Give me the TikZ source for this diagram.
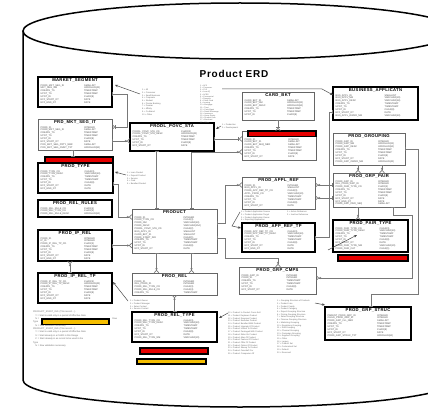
\documentclass[tikz,border=0pt]{standalone}
\usepackage{fontspec}
\setmainfont{Liberation Sans}
\newfontfamily\hdfont[LetterSpace=8]{Liberation Sans}
\newfontfamily\ttlfont[LetterSpace=8]{Liberation Sans}
\usetikzlibrary{arrows.meta,calc}
\definecolor{barred}{RGB}{230,0,0}
\definecolor{baryellow}{RGB}{245,190,0}
\definecolor{linegray}{RGB}{120,120,120}
\definecolor{notegray}{RGB}{105,105,105}
\newcommand\efs{\fontsize{2.4}{2.85}\selectfont}
\newcommand\nfs{\fontsize{2.1}{2.7}\selectfont}

\tikzset{
  cyl/.style={draw=black, line width=1.5pt},
  entthin/.style={draw=black!60, line width=0.6pt, inner sep=0pt, outer sep=0pt, fill=white},
  entthick/.style={draw=black, line width=1.3pt, inner sep=0pt, outer sep=0pt, fill=white},
  enttitle/.style={inner sep=0pt, font=\hdfont\fontsize{4.2}{5}\selectfont\bfseries},
  entcol/.style={inner sep=0pt, align=left, font=\efs, text=black!70},
  notetext/.style={inner sep=0pt, align=left, font=\nfs, text=notegray, anchor=north west},
  rel/.style={draw=linegray, line width=0.65pt},
  mcrow/.style={arrows={{Bar[width=4pt,line width=0.6pt]}-{Circle[open,length=2.2pt,width=2.2pt,line width=0.5pt] Straight Barb[reversed,length=2.4pt,width=4.6pt,line width=0.6pt]}}},
  mbar/.style={arrows={{Bar[width=4pt,line width=0.6pt]}-{Bar[width=4pt,line width=0.6pt] Straight Barb[reversed,length=2.4pt,width=4.6pt,line width=0.6pt]}}},
  onebar/.style={arrows={{Bar[width=4pt,line width=0.6pt]}-{Bar[width=4pt,line width=0.6pt]}}},
  notearr/.style={draw=black!70, line width=0.5pt, arrows={-Stealth[length=3pt,width=2.6pt]}},
  redbar/.style={draw=black, line width=1.2pt, fill=barred, inner sep=0pt, outer sep=0pt},
  yellowbar/.style={draw=black, line width=1.2pt, fill=baryellow, inner sep=0pt, outer sep=0pt},
}

% entity box: name, x, y, width, height, style, title, column of names, column of types
\newcommand\erdbox[9]{%
  \node[#6, minimum width=#4pt, minimum height=#5pt, anchor=north west] (#1) at (#2,#3) {};
  \node[enttitle, anchor=north] (#1-t) at ($(#1.north)+(0,1.6)$) {#7};
  \node[entcol, anchor=north west] (#1-l) at ($(#1.north west)+(2.5,7.2)$) {#8};
  \node[entcol, anchor=north west] (#1-r) at ($(#1.north)+(9,7.2)$) {#9};
}

\begin{document}
\begin{tikzpicture}[x=1pt,y=-1pt]
\useasboundingbox (0,0) rectangle (428,409);
\fill[white] (0,0) rectangle (428,409);
\clip (0,0) rectangle (428,409);

% the database cylinder
\draw[cyl] (240,31) ellipse [x radius=217pt, y radius=28pt];
\draw[cyl] (23,31) -- (23,380) arc[start angle=180, end angle=360, x radius=217pt, y radius=27pt] -- (457,31);

\node[font=\ttlfont\fontsize{10}{12}\selectfont\bfseries] (title) at (234,74) {Product ERD};

% ---------------- entities ----------------
\erdbox{MKT}{38}{77}{74}{30}{entthick}{MARKET\_SEGMENT}
 {PROD\_MKT\_SEG\_ID\\MKT\_SEG\_NM\\CREATE\_TS\\UPDT\_TS\\UPDT\_ID\\EFF\_START\_DT\\EFF\_END\_DT}
 {SMALLINT\\VARCHAR(40)\\TIMESTAMP\\TIMESTAMP\\CHAR(8)\\DATE\\DATE}

\erdbox{PMS}{38}{119}{74}{31}{entthin}{PRD\_MKT\_SEG\_IT}
 {PROD\_ID\\PROD\_MKT\_SEG\_ID\\CREATE\_TS\\UPDT\_TS\\UPDT\_ID\\EFF\_START\_DT\\PRD\_MKT\_SEG\_PRTY\_NBR\\PRD\_MKT\_SEG\_CMNT\_TXT}
 {INTEGER\\SMALLINT\\TIMESTAMP\\TIMESTAMP\\CHAR(8)\\DATE\\SMALLINT\\VARCHAR(80)}

\erdbox{PTYPE}{38}{163}{75}{30}{entthick}{PROD\_TYPE}
 {PROD\_TYPE\_CD\\PROD\_TYPE\_DESC\\CREATE\_TS\\UPDT\_TS\\UPDT\_ID\\EFF\_START\_DT\\EFF\_END\_DT}
 {CHAR(3)\\VARCHAR(40)\\TIMESTAMP\\TIMESTAMP\\CHAR(8)\\DATE\\DATE}
\node[redbar, minimum width=68pt, minimum height=6pt, anchor=north west] (PTYPE-hd) at (45,157) {};

\erdbox{PRR}{38}{200}{74}{17}{entthick}{PROD\_REL\_RULES}
 {PROD\_REL\_RULE\_CD\\PROD\_REL\_TYPE\_CD\\PROD\_REL\_RULE\_DESC}
 {CHAR(4)\\CHAR(3)\\VARCHAR(60)}

\erdbox{PIR}{38}{230}{74}{31}{entthick}{PROD\_IP\_REL}
 {PROD\_ID\\IP\_ID\\PROD\_IP\_REL\_TP\_CD\\CREATE\_TS\\UPDT\_TS\\UPDT\_ID\\EFF\_START\_DT\\EFF\_END\_DT}
 {INTEGER\\INTEGER\\CHAR(3)\\TIMESTAMP\\TIMESTAMP\\CHAR(8)\\DATE\\DATE}

\erdbox{PIRT}{38}{273}{74}{30}{entthick}{PROD\_IP\_REL\_TP}
 {PROD\_IP\_REL\_TP\_CD\\PROD\_IP\_REL\_TP\_DESC\\CREATE\_TS\\UPDT\_TS\\UPDT\_ID\\EFF\_START\_DT\\EFF\_END\_DT}
 {CHAR(3)\\VARCHAR(40)\\TIMESTAMP\\TIMESTAMP\\CHAR(8)\\DATE\\DATE}

\erdbox{POVC}{130}{123}{84}{28}{entthick}{PRODL\_POVC\_STA}
 {PRODL\_POVC\_STA\_CD\\PRODL\_POVC\_STA\_DESC\\CREATE\_TS\\UPDT\_TS\\UPDT\_ID\\EFF\_START\_DT}
 {CHAR(2)\\VARCHAR(40)\\TIMESTAMP\\TIMESTAMP\\CHAR(8)\\DATE}

\erdbox{PRODUCT}{132}{209}{85}{44}{entthin}{PRODUCT}
 {PROD\_ID\\PROD\_TYPE\_CD\\PROD\_NM\\PROD\_DESC\\PRODL\_POVC\_STA\_CD\\BUS\_APPL\_ID\\CARD\_BKT\_ID\\PROD\_START\_IND\\CREATE\_TS\\UPDT\_TS\\UPDT\_ID\\EFF\_START\_DT}
 {INTEGER\\CHAR(3)\\VARCHAR(40)\\VARCHAR(254)\\CHAR(2)\\SMALLINT\\SMALLINT\\CHAR(1)\\TIMESTAMP\\TIMESTAMP\\CHAR(8)\\DATE}

\erdbox{PREL}{132}{273}{85}{22}{entthin}{PROD\_REL}
 {PROD\_ID\\REL\_PROD\_ID\\PROD\_REL\_TYPE\_CD\\PROD\_REL\_RULE\_CD\\CREATE\_TS}
 {INTEGER\\INTEGER\\CHAR(3)\\CHAR(4)\\TIMESTAMP}

\erdbox{PRT}{132}{312}{85}{30}{entthick}{PROD\_REL\_TYPE}
 {PROD\_REL\_TYPE\_CD\\PROD\_REL\_TYPE\_DESC\\CREATE\_TS\\UPDT\_TS\\UPDT\_ID\\EFF\_START\_DT\\PROD\_REL\_TYPE\_NM}
 {CHAR(3)\\VARCHAR(40)\\TIMESTAMP\\TIMESTAMP\\CHAR(8)\\DATE\\VARCHAR(20)}

\erdbox{CARD}{242}{92}{72}{28}{entthin}{CARD\_BKT}
 {CARD\_BKT\_ID\\CARD\_BKT\_NM\\CARD\_BKT\_DESC\\CREATE\_TS\\UPDT\_TS\\UPDT\_ID}
 {SMALLINT\\VARCHAR(20)\\VARCHAR(60)\\TIMESTAMP\\TIMESTAMP\\CHAR(8)}

\erdbox{CBX}{242}{131}{74}{29}{entthin}{PROD\_CARD\_BKT}
 {PROD\_ID\\CARD\_BKT\_ID\\CARD\_BKT\_SEQ\_NBR\\CREATE\_TS\\UPDT\_TS\\UPDT\_ID\\EFF\_START\_DT}
 {INTEGER\\SMALLINT\\SMALLINT\\TIMESTAMP\\TIMESTAMP\\CHAR(8)\\DATE}
\node[redbar, minimum width=68pt, minimum height=5.5pt, anchor=north west] (CBX-hd) at (248,131) {};

\erdbox{BA}{333}{87}{85}{33}{entthick}{BUSINESS\_APPLICATN}
 {BUS\_APPL\_ID\\BUS\_APPL\_NM\\BUS\_APPL\_DESC\\CREATE\_TS\\UPDT\_TS\\UPDT\_ID\\EFF\_START\_DT\\BUS\_APPL\_OWNR\_NM}
 {SMALLINT\\VARCHAR(20)\\VARCHAR(60)\\TIMESTAMP\\TIMESTAMP\\CHAR(8)\\DATE\\VARCHAR(40)}

\erdbox{PG}{333}{133}{72}{32}{entthin}{PROD\_GROUPING}
 {PROD\_GRP\_ID\\PROD\_GRP\_NM\\PROD\_GRP\_DESC\\CREATE\_TS\\UPDT\_TS\\UPDT\_ID\\EFF\_START\_DT\\PROD\_GRP\_OWNR\_NM}
 {INTEGER\\VARCHAR(20)\\VARCHAR(60)\\TIMESTAMP\\TIMESTAMP\\CHAR(8)\\DATE\\VARCHAR(40)}

\erdbox{PGP}{333}{173}{72}{34}{entthin}{PROD\_GRP\_PAIR}
 {PROD\_GRP\_ID\\REL\_PROD\_GRP\_ID\\PROD\_PAIR\_TYPE\_CD\\CREATE\_TS\\UPDT\_TS\\UPDT\_ID\\EFF\_START\_DT\\EFF\_END\_DT\\PROD\_GRP\_PAIR\_SEQ}
 {INTEGER\\INTEGER\\CHAR(3)\\TIMESTAMP\\TIMESTAMP\\CHAR(8)\\DATE\\DATE\\SMALLINT}

\erdbox{PPT}{333}{220}{75}{32}{entthick}{PROD\_PAIR\_TYPE}
 {PROD\_PAIR\_TYPE\_CD\\PROD\_PAIR\_TYPE\_DESC\\CREATE\_TS\\UPDT\_TS\\UPDT\_ID\\EFF\_START\_DT\\PROD\_PAIR\_TYPE\_NM\\PROD\_PAIR\_CAT}
 {CHAR(3)\\VARCHAR(40)\\TIMESTAMP\\TIMESTAMP\\CHAR(8)\\DATE\\VARCHAR(20)\\CHAR(1)}
\node[redbar, minimum width=70pt, minimum height=6pt, anchor=north west] (PPT-ft) at (338,255) {};

\erdbox{PAR}{242}{177}{73}{32}{entthin}{PROD\_APPL\_REF}
 {PROD\_ID\\BUS\_APPL\_ID\\PROD\_APP\_REF\_TP\_CD\\APPL\_PROD\_CD\\CREATE\_TS\\UPDT\_TS\\UPDT\_ID\\EFF\_START\_DT}
 {INTEGER\\SMALLINT\\CHAR(3)\\VARCHAR(20)\\TIMESTAMP\\TIMESTAMP\\CHAR(8)\\DATE}

\erdbox{PART}{242}{223}{73}{29}{entthick}{PROD\_APP\_REF\_TP}
 {PROD\_APP\_REF\_TP\_CD\\PROD\_APP\_REF\_TP\_DESC\\CREATE\_TS\\UPDT\_TS\\UPDT\_ID\\EFF\_START\_DT\\EFF\_END\_DT}
 {CHAR(3)\\VARCHAR(40)\\TIMESTAMP\\TIMESTAMP\\CHAR(8)\\DATE\\DATE}

\erdbox{PGC}{239}{267}{77}{27}{entthin}{PROD\_GRP\_CMPS}
 {PROD\_GRP\_ID\\PROD\_ID\\CREATE\_TS\\UPDT\_TS\\UPDT\_ID\\EFF\_START\_DT}
 {INTEGER\\INTEGER\\TIMESTAMP\\TIMESTAMP\\CHAR(8)\\DATE}

\erdbox{PGS}{325}{307}{86}{33}{entthick}{PROD\_GRP\_STRUC}
 {PARENT\_PROD\_GRP\_ID\\CHILD\_PROD\_GRP\_ID\\PROD\_GRP\_LVL\_NBR\\CREATE\_TS\\UPDT\_TS\\UPDT\_ID\\EFF\_START\_DT\\PROD\_GRP\_STRUC\_TXT}
 {INTEGER\\INTEGER\\SMALLINT\\TIMESTAMP\\TIMESTAMP\\CHAR(8)\\DATE\\VARCHAR(60)}

% flags under the relation type table
\node[redbar, minimum width=68pt, minimum height=6pt, anchor=north west] (flagred) at (140,348) {};
\node[yellowbar, minimum width=69pt, minimum height=5pt, anchor=north west] (flagyel) at (137,359) {};

% ---------------- code lists ----------------
\node[notetext] (N1) at (142,89) {1 = All\\2 = Consumer\\3 = Small Business\\4 = Corporate\\5 = Student\\6 = Private Banking\\7 = Premier\\8 = Affinity\\9 = Co-Brand\\10 = Other};
\node[notetext, font=\fontsize{1.9}{2.15}\selectfont] (N2) at (200,85) {1 = AFS\\2 = Consumer\\3 = CLS\\4 = Loan IQ\\5 = ACBS\\6 = Commercial\\7 = Deposits\\8 = Credit Card\\9 = Leasing\\10 = Mortgage\\11 = Trust\\12 = Cash Mgmt\\13 = Retail Brokerage\\14 = Insurance\\15 = Home Equity\\16 = Student Loan\\17 = Merchant\\18 = Other};
\node[notetext] (N3) at (222,124) {1 = Production\\2 = Development};
\node[notetext] (N4) at (127,172) {1 = Loan Product\\2 = Deposit Product\\3 = Service\\4 = Card\\5 = Bundled Product};
\node[notetext] (N5) at (130,300) {1 = Product Owner\\2 = Product Manager\\3 = Sales Contact\\4 = Service Contact};
\node[notetext] (N6a) at (241,211) {1 = Product Application Source\\2 = Product Application Target\\3 = Product Application Owner\\4 = Reporting Application};
\node[notetext] (N6b) at (287,211) {1 = Active Reference\\2 = Inactive Reference};
\node[notetext] (N7) at (228,312) {10 = Product to Product Cross Sell\\11 = Product Replaces Product\\12 = Product Requires Product\\13 = Product Excludes Product\\14 = Product Bundled With Product\\15 = Product Upgrade Of Product\\16 = Product Linked To Product\\17 = Product Packaged With Product\\18 = Product Rider On Product\\19 = Product Alias Of Product\\20 = Product Feature Of Product\\21 = Product Offer Of Product\\22 = Product Option Of Product\\23 = Product Sweep To Product\\24 = Product Overdraft For\\25 = Product Companion Of};
\node[notetext] (N8) at (277,300) {1 = Grouping Structure of Products\\2 = Product Line\\3 = Product Family\\4 = Product Category\\5 = Report Grouping Structure\\6 = Pricing Grouping Structure\\7 = Sales Grouping Structure\\8 = Finance Grouping Structure\\9 = Marketing Grouping\\10 = Regulatory Grouping\\11 = Risk Grouping\\12 = Channel Grouping\\13 = Campaign Grouping\\14 = Segment Grouping\\15 = Other\\16 = Legacy\\17 = Product Set\\18 = Customized Set\\19 = Default\\20 = Reserved};

% legend text with its colour key
\node[notetext, font=\fontsize{2.3}{3.35}\selectfont] (legend) at (33,311) {PRODUCT\_START\_IND \ (This record ...)\\
\quad Y = Start is valid only in a period of Effective Date\\
\quad N = \hspace{72pt} Row\\
Type\\
\quad N = Row validation necessary\\
PRODUCT\_START\_IND \ (This record ...)\\
\quad Y = Start is valid only in a period of Effective Date\\
\quad S = Start already in a CARD in this Range\\
\quad C = Start already in as record to be used in the\\
Type\\
\quad N = Row validation necessary};
\node[yellowbar, minimum width=67pt, minimum height=5.5pt, anchor=north west] (legyel) at (42,319) {};

% ---------------- relationships ----------------
\draw[notearr] ($(N1.north west)+(-2,5)$) -- ($(MKT.north east)+(3,8)$);
\draw[rel,mbar] ($(MKT.east)+(0,2)$) -- ++(15,0) |- ($(PMS.east)+(0,-7.5)$);
\coordinate (c1) at ($(PMS.east)+(0,6.5)$);
\draw[rel,mcrow] (c1) -- (c1 -| POVC.west);
\coordinate (d1) at ($(PMS.south)+(-2,0)$);
\draw[rel,onebar] (d1) -- (d1 |- PTYPE-hd.north);
\draw[notearr] ($(N4.north west)+(-1,3)$) -- ($(PTYPE.east)+(2,-6)$);
\draw[rel,mcrow] ($(PTYPE.east)+(0,6)$) -- ++(5,0) |- ($(PRODUCT.west)+(0,-14)$);
\draw[rel,mcrow] (PIR.east) -- (PIR.east -| PRODUCT.west);
\coordinate (h1) at ($(PIRT.north)+(-5,0)$);
\draw[rel,mcrow] (h1) -- (h1 |- PIR.south);
\draw[notearr] ($(N5.north west)+(-2,1)$) -- ($(PIRT.east)+(1,-6)$);

\coordinate (j1) at ($(PRODUCT.south)+(-18,0)$);
\coordinate (j2) at ($(PRODUCT.south)+(17,0)$);
\draw[rel,mcrow] (j1) -- (j1 |- PREL.north);
\draw[rel,mcrow] (j2) -- (j2 |- PREL.north);
\draw[rel,mcrow] (PRT.north) -- (PREL.south);

\coordinate (l1) at ($(PRODUCT.north)+(-18,0)$);
\draw[rel,onebar] (l1) -- (l1 |- POVC.south);
\coordinate (m1) at ($(PRODUCT.north)+(17,0)$);
\draw[rel,mcrow] (m1) |- ($(CBX.west)+(0,6.5)$);
\coordinate (n1) at ($(POVC.east)+(0,2)$);
\draw[rel,mbar] (n1) -- (n1 -| CBX.west);
\draw[rel,mbar] (CARD.south) -- (CARD.south |- CBX-hd.north);

\coordinate (p1) at ($(N2.north west)+(22,4)$);
\coordinate (p2) at ($(BA.north west)+(-11,2)$);
\draw[notearr] (p1) -- (p2) -- ($(BA.north west)+(0,8)$);
\draw[notearr] ($(N3.north west)+(-1,2)$) -- ($(POVC.north east)+(2,6)$);

\coordinate (r1) at ($(BA.west)+(0,8.5)$);
\draw[rel,onebar] (r1) -- ++(-4,0) |- (PART.east);
\draw[rel,onebar] (PG.east) -- ++(13,0) -- ++(0,145) -| ($(PGS.north)+(3,0)$);
\coordinate (t1) at ($(PG.south)+(-11,0)$);
\coordinate (t2) at ($(PG.south)+(13,0)$);
\draw[rel,mcrow] (t1) -- (t1 |- PGP.north);
\draw[rel,mcrow] (t2) -- (t2 |- PGP.north);
\coordinate (u1) at ($(PGP.south)+(-11,0)$);
\draw[rel,mcrow] (u1) -- (u1 |- PPT.north);
\draw[rel,mcrow] ($(PGP.south)+(24,0)$) -- ++(0,8) -- ++(19,0) |- ($(PGC.east)+(0,-2.5)$);

\draw[rel,mcrow] ($(PRODUCT.east)+(0,-8)$) -- ++(8,0) |- ($(PAR.west)+(0,-8)$);
\draw[rel,mcrow] ($(PRODUCT.east)+(0,7)$) -- ++(8,0) -- ++(0,20) -| ($(PGC.north)+(0.5,0)$);
\coordinate (y1) at ($(PAR.east)+(0,-8)$);
\coordinate (y2) at ($(PAR.east)+(0,5)$);
\draw[rel,mcrow] (y1 -| PGP.west) -- (y1);
\draw[rel,mcrow] (y2 -| PGP.west) -- (y2);

\draw[notearr] ($(PART.north west)+(-2,-11)$) -- ($(PART.north west)+(-10,3)$) -- ($(PART.north west)+(-1,5)$);
\draw[notearr] ($(PPT.south west)+(-5,-2)$) -- ($(PPT.south west)+(24,-17)$);
\draw[notearr] ($(PGS.north west)+(-10,-4)$) -- ($(PGS.north west)+(0,-2)$);
\draw[notearr] ($(PRT.north east)+(11,1)$) -- ($(PRT.north east)+(2,6)$);
\end{tikzpicture}
\end{document}
